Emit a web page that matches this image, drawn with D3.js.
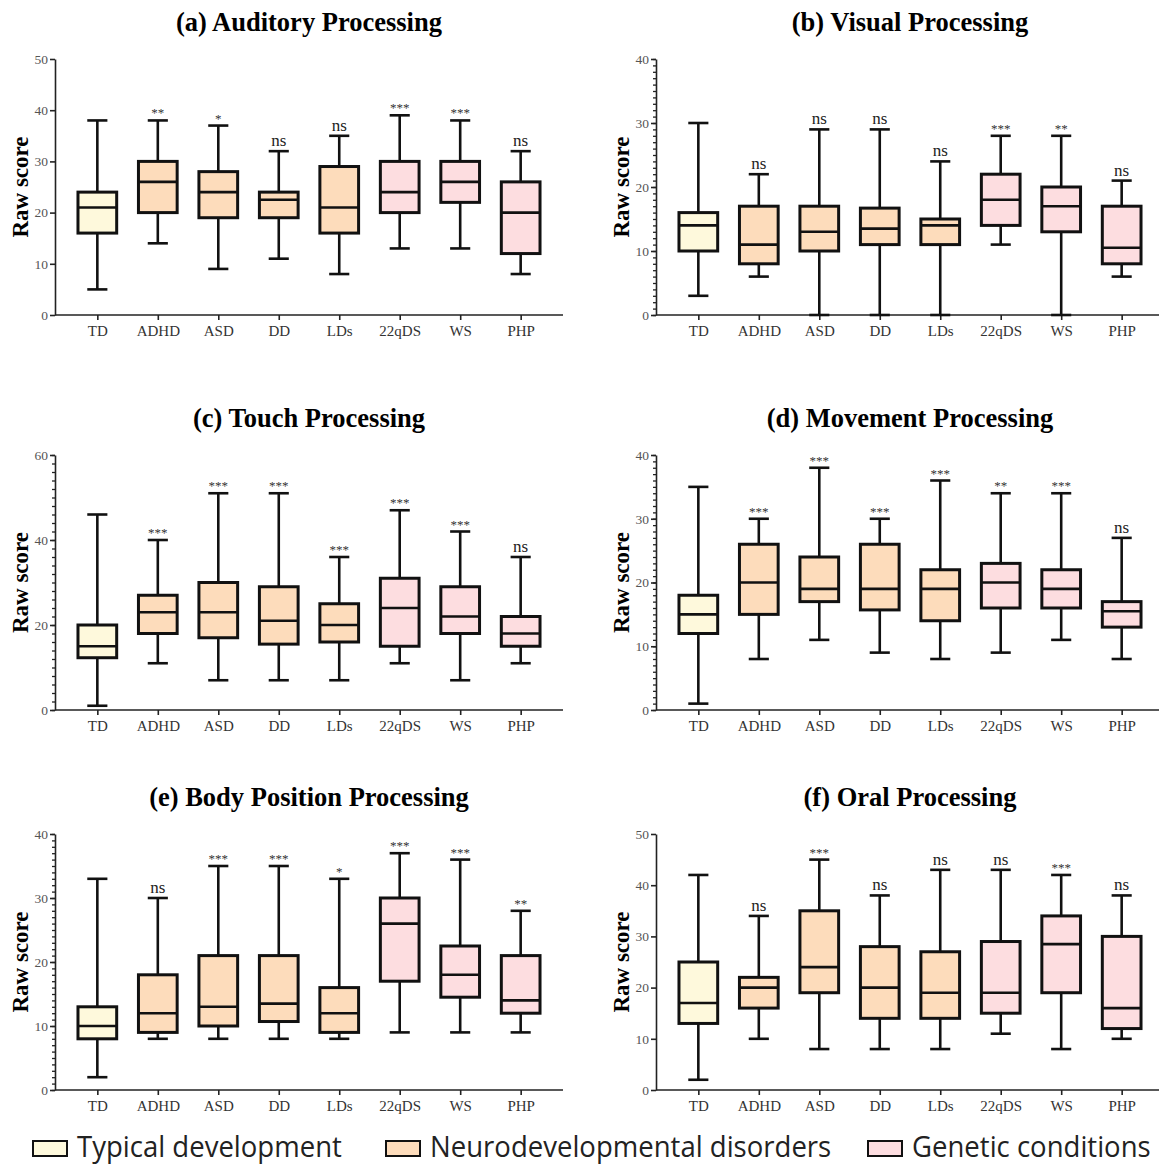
<!DOCTYPE html>
<html>
<head>
<meta charset="utf-8">
<script src="https://cdn.jsdelivr.net/npm/d3@7"></script>
<style>
  body { margin: 0; background: #fff; }
  .tick text { font-family: "Liberation Serif", "DejaVu Serif", serif; }
</style>
</head>
<body>
<svg id="chart"></svg>
<script>
// groups on the x axis and which colour family each belongs to
const groups = ["TD", "ADHD", "ASD", "DD", "LDs", "22qDS", "WS", "PHP"];
const groupKind = ["typical", "neuro", "neuro", "neuro", "neuro", "genetic", "genetic", "genetic"];
const legendLabels = ["Typical development", "Neurodevelopmental disorders", "Genetic conditions"];
const legendKinds = ["typical", "neuro", "genetic"];

// each row: [min, q1, median, q3, max] for one group
const auditory = [[5, 16, 21, 24, 38], [14, 20, 26, 30, 38], [9, 19, 24, 28, 37], [11, 19, 22.5, 24, 32],
                  [8, 16, 21, 29, 35], [13, 20, 24, 30, 39], [13, 22, 26, 30, 38], [8, 12, 20, 26, 32]];
const auditorySig = ["", "**", "*", "ns", "ns", "***", "***", "ns"];

const visual = [[3, 10, 14, 16, 30], [6, 8, 11, 17, 22], [0, 10, 13, 17, 29], [0, 11, 13.5, 16.7, 29],
                [0, 11, 14, 15, 24], [11, 14, 18, 22, 28], [0, 13, 17, 20, 28], [6, 8, 10.5, 17, 21]];
const visualSig = ["", "ns", "ns", "ns", "ns", "***", "**", "ns"];

const touch = [[1, 12.3, 15, 20, 46], [11, 18, 23, 27, 40], [7, 17, 23, 30, 51], [7, 15.5, 21, 29, 51],
               [7, 16, 20, 25, 36], [11, 15, 24, 31, 47], [7, 18, 22, 29, 42], [11, 15, 18, 22, 36]];
const touchSig = ["", "***", "***", "***", "***", "***", "***", "ns"];

const movement = [[1, 12, 15, 18, 35], [8, 15, 20, 26, 30], [11, 17, 19, 24, 38], [9, 15.7, 19, 26, 30],
                  [8, 14, 19, 22, 36], [9, 16, 20, 23, 34], [11, 16, 19, 22, 34], [8, 13, 15.5, 17, 27]];
const movementSig = ["", "***", "***", "***", "***", "**", "***", "ns"];

const bodyPosition = [[2, 8, 10, 13, 33], [8, 9, 12, 18, 30], [8, 10, 13, 21, 35], [8, 10.7, 13.5, 21, 35],
                      [8, 9, 12, 16, 33], [9, 17, 26, 30, 37], [9, 14.5, 18, 22.5, 36], [9, 12, 14, 21, 28]];
const bodyPositionSig = ["", "ns", "***", "***", "*", "***", "***", "**"];

const oral = [[2, 13, 17, 25, 42], [10, 16, 20, 22, 34], [8, 19, 24, 35, 45], [8, 14, 20, 28, 38],
              [8, 14, 19, 27, 43], [11, 15, 19, 29, 43], [8, 19, 28.5, 34, 42], [10, 12, 16, 30, 38]];
const oralSig = ["", "ns", "***", "ns", "ns", "ns", "***", "ns"];

const panelTitles = ["(a) Auditory Processing", "(b) Visual Processing", "(c) Touch Processing",
                     "(d) Movement Processing", "(e) Body Position Processing", "(f) Oral Processing"];
const yMax = [50, 40, 60, 40, 40, 50];
const yStep = [10, 10, 20, 10, 10, 10];
const yMinorStep = [0, 1, 2, 1, 1, 0];

const panels = [
  { stats: auditory, sig: auditorySig },
  { stats: visual, sig: visualSig },
  { stats: touch, sig: touchSig },
  { stats: movement, sig: movementSig },
  { stats: bodyPosition, sig: bodyPositionSig },
  { stats: oral, sig: oralSig }
];

const fills = { typical: "#fef9dc", neuro: "#fddcbb", genetic: "#fddde0" };
const serif = '"Liberation Serif", "DejaVu Serif", serif';

const W = 1159, H = 1164;
const colLeft = [55, 656];
const plotW = 508;
const rowTop = [59, 455, 834];
const rowBottom = [315, 710, 1090];

const svg = d3.select("#chart").attr("width", W).attr("height", H);

function drawPanel(p, i) {
  const col = i % 2, row = Math.floor(i / 2);
  const left = colLeft[col], right = left + plotW;
  const top = rowTop[row], bottom = rowBottom[row];

  const x = d3.scalePoint().domain(groups).range([left, right]).padding(0.7);
  const y = d3.scaleLinear().domain([0, yMax[i]]).range([bottom, top]);
  const g = svg.append("g");

  g.append("text")
    .attr("x", (left + right) / 2)
    .attr("y", top - 28)
    .attr("text-anchor", "middle")
    .style("font-family", serif)
    .style("font-weight", "bold")
    .style("font-size", "26.5px")
    .text(panelTitles[i]);

  g.append("text")
    .attr("transform", `translate(${left - 27},${(top + bottom) / 2}) rotate(-90)`)
    .attr("text-anchor", "middle")
    .style("font-family", serif)
    .style("font-weight", "bold")
    .style("font-size", "23px")
    .text("Raw score");

  // minor ticks first so the major ones sit on top
  if (yMinorStep[i]) {
    g.append("g")
      .attr("transform", `translate(${left},0)`)
      .call(d3.axisLeft(y).tickValues(d3.range(0, yMax[i] + 0.001, yMinorStep[i])).tickSize(3).tickFormat(""))
      .call(a => a.select(".domain").remove())
      .call(a => a.selectAll("line").attr("stroke", "#222").attr("stroke-width", 1.3));
  }

  const yAxis = g.append("g")
    .attr("transform", `translate(${left},0)`)
    .call(d3.axisLeft(y).tickValues(d3.range(0, yMax[i] + 0.001, yStep[i])).tickSize(5).tickSizeOuter(0).tickPadding(2));
  yAxis.select(".domain").attr("stroke", "#222").attr("stroke-width", 1.6);
  yAxis.selectAll("line").attr("stroke", "#222").attr("stroke-width", 1.6);
  yAxis.selectAll("text").style("font-size", "13.5px").attr("fill", "#555");

  const xAxis = g.append("g")
    .attr("transform", `translate(0,${bottom})`)
    .call(d3.axisBottom(x).tickSize(5).tickSizeOuter(0).tickPadding(5));
  xAxis.select(".domain").attr("stroke", "#222").attr("stroke-width", 1.6)
    .attr("d", `M${left},0H${right}`);
  xAxis.selectAll("line").attr("stroke", "#222").attr("stroke-width", 1.6);
  xAxis.selectAll("text").style("font-size", "15px").attr("fill", "#333");

  const boxW = x.step() * 0.64;
  const capW = boxW * 0.52;

  const box = g.selectAll(".box")
    .data(p.stats.map((s, k) => ({ group: groups[k], kind: groupKind[k], s: s, sig: p.sig[k] })))
    .enter().append("g")
    .attr("class", "box");

  // whisker from min to max, drawn under the box
  box.append("line")
    .attr("x1", d => x(d.group)).attr("x2", d => x(d.group))
    .attr("y1", d => y(d.s[0])).attr("y2", d => y(d.s[4]))
    .attr("stroke", "#111").attr("stroke-width", 2.6);

  box.selectAll(".cap")
    .data(d => [d.s[0], d.s[4]].map(v => ({ group: d.group, v: v })))
    .enter().append("line")
    .attr("x1", d => x(d.group) - capW / 2).attr("x2", d => x(d.group) + capW / 2)
    .attr("y1", d => y(d.v)).attr("y2", d => y(d.v))
    .attr("stroke", "#111").attr("stroke-width", 2.6);

  box.append("rect")
    .attr("x", d => x(d.group) - boxW / 2)
    .attr("width", boxW)
    .attr("y", d => y(d.s[3]))
    .attr("height", d => y(d.s[1]) - y(d.s[3]))
    .attr("fill", d => fills[d.kind])
    .attr("stroke", "#111").attr("stroke-width", 3);

  box.append("line")
    .attr("x1", d => x(d.group) - boxW / 2).attr("x2", d => x(d.group) + boxW / 2)
    .attr("y1", d => y(d.s[2])).attr("y2", d => y(d.s[2]))
    .attr("stroke", "#111").attr("stroke-width", 2.6);

  box.filter(d => d.sig).append("text")
    .attr("x", d => x(d.group))
    .attr("y", d => y(d.s[4]) - (d.sig === "ns" ? 5 : 3))
    .attr("text-anchor", "middle")
    .style("font-family", serif)
    .style("font-size", d => d.sig === "ns" ? "17px" : "13px")
    .attr("fill", d => d.sig === "ns" ? "#222" : "#333")
    .text(d => d.sig);
}

panels.forEach(drawPanel);

// legend along the bottom
const legendX = [33, 386, 868];
const legend = svg.append("g").selectAll("g")
  .data(legendLabels.map((l, k) => ({ label: l, kind: legendKinds[k], x: legendX[k] })))
  .enter().append("g")
  .attr("transform", d => `translate(${d.x},1141)`);

legend.append("rect")
  .attr("width", 34).attr("height", 15)
  .attr("fill", d => fills[d.kind])
  .attr("stroke", "#111").attr("stroke-width", 2);

// the figure's legend face is a narrow sans, so squeeze Open Sans horizontally
legend.append("text")
  .attr("transform", "translate(44,16) scale(0.95,1)")
  .style("font-family", '"Open Sans", "Noto Sans", sans-serif')
  .style("font-size", "29px")
  .attr("fill", "#222")
  .text(d => d.label);
</script>
</body>
</html>
